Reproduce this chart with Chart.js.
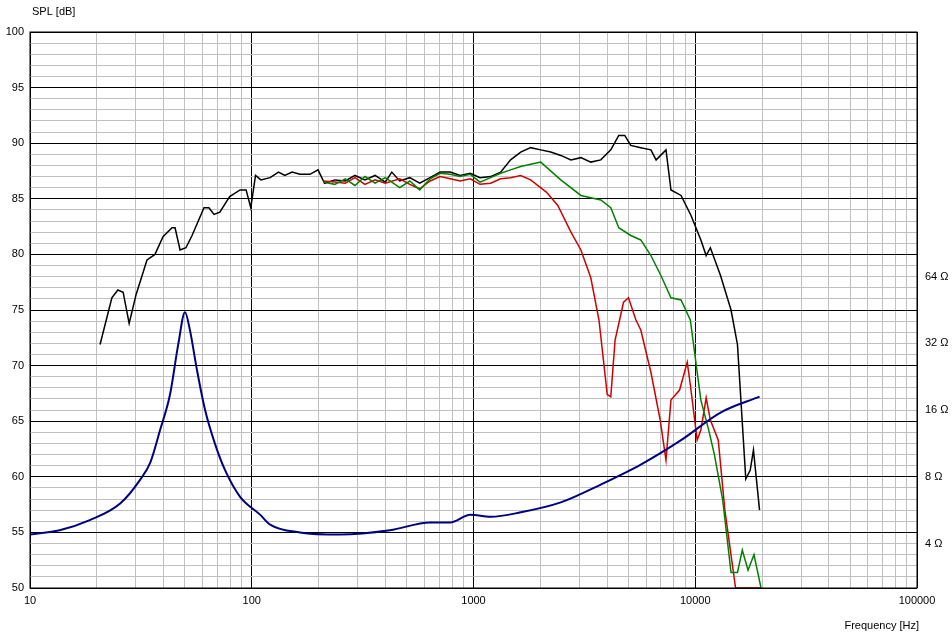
<!DOCTYPE html>
<html>
<head>
<meta charset="utf-8">
<script src="https://cdn.jsdelivr.net/npm/chart.js@4/dist/chart.umd.min.js"></script>
<style>
  html, body { margin: 0; padding: 0; background: #fff; }
  #wrap { width: 952px; height: 639px; }
</style>
</head>
<body>
<div id="wrap"><canvas id="spl-chart"></canvas></div>
<script>
'use strict';

// frequencies [Hz] and SPL [dB]
var blackFreq = [20.7, 23.4, 24.9, 26.3, 28.0, 30.1, 33.7, 36.6, 39.8, 43.7, 45.1, 47.5, 50.5, 53.8, 60.9, 64.1, 67.6, 71.8, 79.5, 88.6, 94.3, 99, 104, 110, 121, 132, 141, 152, 165, 183, 199, 213, 237, 264, 292, 324, 360, 400, 428, 465, 516, 572, 637, 707, 785, 871, 967, 1070, 1195, 1325, 1470, 1632, 1810, 2010, 2230, 2475, 2750, 3050, 3380, 3750, 4160, 4520, 4810, 5120, 5680, 6310, 6660, 7380, 7770, 8630, 9570, 10600, 11200, 11700, 13000, 14500, 15500, 16900, 17700, 18300, 19500];
var blackSpl = [71.9, 76.1, 76.8, 76.6, 73.8, 76.4, 79.5, 80.0, 81.6, 82.4, 82.4, 80.4, 80.6, 81.7, 84.2, 84.2, 83.6, 83.8, 85.2, 85.8, 85.8, 84.2, 87.1, 86.7, 86.9, 87.4, 87.1, 87.4, 87.2, 87.2, 87.6, 86.4, 86.7, 86.6, 87.1, 86.7, 87.1, 86.5, 87.4, 86.6, 86.9, 86.4, 86.9, 87.4, 87.4, 87.1, 87.3, 86.9, 87.0, 87.4, 88.5, 89.2, 89.6, 89.4, 89.2, 88.9, 88.5, 88.7, 88.3, 88.5, 89.4, 90.7, 90.7, 89.8, 89.6, 89.4, 88.5, 89.4, 85.8, 85.3, 83.5, 81.3, 79.9, 80.6, 78.1, 75.0, 71.9, 59.8, 60.6, 62.4, 57.0];

var greenFreq = [210, 237, 264, 292, 324, 360, 400, 465, 516, 572, 637, 707, 785, 871, 967, 1070, 1195, 1325, 1470, 1632, 1810, 2010, 2475, 3050, 3750, 4160, 4520, 5120, 5680, 6310, 7000, 7770, 8630, 9500, 10600, 11500, 12200, 13300, 14500, 15500, 16300, 17300, 18400, 19800];
var greenSpl = [86.5, 86.3, 86.8, 86.2, 87.0, 86.4, 86.9, 86.0, 86.6, 85.8, 86.8, 87.3, 87.2, 87.0, 87.2, 86.5, 86.9, 87.3, 87.6, 87.9, 88.1, 88.3, 86.7, 85.3, 84.9, 84.2, 82.4, 81.7, 81.3, 79.9, 78.1, 76.1, 75.9, 74.1, 66.9, 64.2, 62.0, 57.9, 51.4, 51.4, 53.4, 51.6, 53.0, 50.0];

var redFreq = [210, 237, 264, 292, 324, 360, 400, 465, 516, 572, 637, 707, 785, 871, 967, 1070, 1195, 1325, 1470, 1632, 1810, 2130, 2400, 2750, 3050, 3380, 3680, 4010, 4160, 4350, 4750, 5000, 5400, 5680, 6310, 6950, 7380, 7770, 8500, 9200, 9500, 10200, 10600, 11200, 11700, 12700, 13600, 15200, 16000, 19800];
var redSpl = [86.6, 86.5, 86.4, 86.9, 86.3, 86.7, 86.4, 86.8, 86.3, 85.9, 86.6, 87.0, 86.8, 86.6, 86.8, 86.3, 86.4, 86.8, 86.9, 87.1, 86.7, 85.6, 84.4, 82.0, 80.4, 77.9, 74.1, 67.4, 67.2, 72.3, 75.7, 76.1, 74.1, 73.2, 69.4, 65.1, 61.5, 66.9, 67.8, 70.3, 68.3, 63.3, 64.2, 67.1, 65.1, 63.3, 57.0, 50.0, 50.0, 50.0];

// impedance [Ohm]
var impFreq = [10, 13.6, 18.6, 25.5, 31.3, 34.9, 38.6, 42.8, 46.6, 50, 52.6, 56.6, 61.6, 68.4, 75.8, 88.6, 109, 121, 165, 250, 420, 637, 785, 967, 1195, 1632, 2475, 3750, 5680, 8630, 13000, 19500];
var impOhm = [4.39, 4.59, 5.10, 6.06, 7.73, 9.3, 13.0, 18.8, 31.6, 44.2, 36.8, 24.3, 16.0, 11.2, 8.57, 6.5, 5.4, 4.87, 4.49, 4.39, 4.59, 4.98, 4.98, 5.40, 5.28, 5.53, 6.13, 7.38, 9.08, 11.7, 15.6, 18.4];

var impTicks = [4, 8, 16, 32, 64];

function toPoints(xs, ys) {
  return xs.map(function(x, i) { return { x: x, y: ys[i] }; });
}

var textPlugin = {
  id: 'axisText',
  afterDraw: function(chart) {
    var ctx = chart.ctx;
    var area = chart.chartArea;
    ctx.save();
    ctx.font = '11px "Liberation Sans", Arial, sans-serif';
    ctx.fillStyle = '#000';
    ctx.textAlign = 'left';
    ctx.textBaseline = 'middle';
    ctx.fillText('SPL [dB]', 32, 12);
    ctx.textAlign = 'right';
    ctx.fillText('Frequency [Hz]', area.right + 2, 626);
    ctx.strokeStyle = '#000';
    ctx.lineWidth = 1;
    ctx.strokeRect(area.left, area.top, area.right - area.left, area.bottom - area.top);
    ctx.restore();
  }
};

var tickFont = { family: '"Liberation Sans", Arial, sans-serif', size: 11 };

var ctx = document.getElementById('spl-chart').getContext('2d');
new Chart(ctx, {
  type: 'line',
  data: {
    datasets: [
      { data: toPoints(impFreq, impOhm), yAxisID: 'y2', borderColor: '#000080', borderWidth: 2, tension: 0.3, cubicInterpolationMode: 'monotone' },
      { data: toPoints(greenFreq, greenSpl), yAxisID: 'y', borderColor: '#008000', borderWidth: 1.5 },
      { data: toPoints(redFreq, redSpl), yAxisID: 'y', borderColor: '#d00000', borderWidth: 1.5 },
      { data: toPoints(blackFreq, blackSpl), yAxisID: 'y', borderColor: '#000000', borderWidth: 1.5 }
    ]
  },
  options: {
    responsive: true,
    maintainAspectRatio: false,
    animation: false,
    layout: { padding: { top: 32, left: 0, right: 0, bottom: 0 } },
    elements: { point: { radius: 0 }, line: { tension: 0 } },
    plugins: { legend: { display: false }, tooltip: { enabled: false } },
    scales: {
      x: {
        type: 'logarithmic',
        min: 10,
        max: 100000,
        afterBuildTicks: function(axis) {
          var t = [];
          for (var d = 10; d < 100000; d *= 10) {
            for (var m = 1; m < 10; m++) t.push({ value: d * m });
          }
          t.push({ value: 100000 });
          axis.ticks = t;
        },
        afterFit: function(axis) { axis.height = 51; },
        ticks: {
          autoSkip: false,
          maxRotation: 0,
          padding: 6,
          color: '#000',
          font: tickFont,
          callback: function(v) {
            var l = Math.log10(v);
            return Math.abs(l - Math.round(l)) < 1e-6 ? String(v) : '';
          }
        },
        grid: {
          drawTicks: false,
          color: function(c) {
            var l = Math.log10(c.tick.value);
            return Math.abs(l - Math.round(l)) < 1e-6 ? '#000' : '#c0c0c0';
          }
        },
        border: { display: false }
      },
      y: {
        position: 'left',
        min: 50,
        max: 100,
        afterBuildTicks: function(axis) {
          var t = [];
          for (var v = 50; v <= 100; v++) t.push({ value: v });
          axis.ticks = t;
        },
        afterFit: function(axis) { axis.width = 30; },
        ticks: {
          autoSkip: false,
          padding: 6,
          color: '#000',
          font: tickFont,
          callback: function(v) { return v % 5 === 0 ? String(v) : ''; }
        },
        grid: {
          drawTicks: false,
          color: function(c) { return c.tick.value % 5 === 0 ? '#000' : '#c0c0c0'; }
        },
        border: { display: false }
      },
      y2: {
        type: 'logarithmic',
        position: 'right',
        // same span as 50..100 dB, 6 dB per doubling, 4 Ohm at 54 dB
        min: 4 * Math.pow(2, -4 / 6),
        max: 4 * Math.pow(2, 46 / 6),
        afterBuildTicks: function(axis) {
          axis.ticks = impTicks.map(function(v) { return { value: v }; });
        },
        afterFit: function(axis) { axis.width = 35; },
        ticks: {
          autoSkip: false,
          padding: 8,
          color: '#000',
          font: tickFont,
          callback: function(v) { return v + ' \u03A9'; }
        },
        grid: { display: false, drawTicks: false },
        border: { display: false }
      }
    }
  },
  plugins: [textPlugin]
});
</script>
</body>
</html>
